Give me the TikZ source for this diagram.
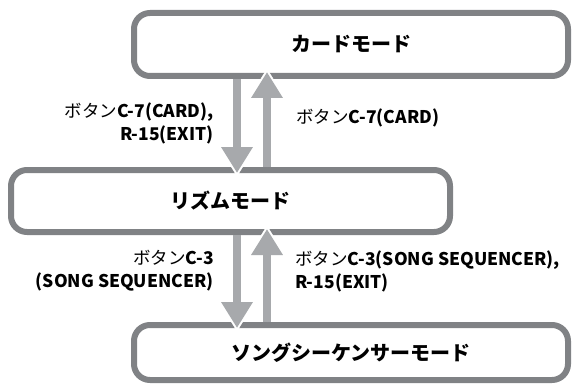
\documentclass[tikz,border=0pt]{standalone}
\usepackage{fontspec}
\setmainfont{Noto Sans CJK JP}
\usetikzlibrary{arrows.meta}
\definecolor{boxgray}{HTML}{808285}
\definecolor{arrowgray}{HTML}{A7A9AC}
\begin{document}
\begin{tikzpicture}[x=1pt, y=-1pt,
    modebox/.style={draw=boxgray, line width=6pt, rounded corners=16pt, fill=white,
        minimum width=434pt, font=\bfseries\fontsize{20}{24}\selectfont},
    flowarrow/.style={draw=arrowgray, line width=8pt, -{Triangle[width=30pt,length=26pt]}},
    halo/.style={draw=white, line width=0.5pt, shorten >=-3.5pt, -{Triangle[width=38pt,length=31pt]}},
    keylabel/.style={inner sep=0pt, font=\fontsize{17.5}{23}\selectfont}]
    \useasboundingbox (0,0) rectangle (572,385);
    \node[modebox, minimum height=63pt] (card) at (351,44.5) {カードモード};
    \node[modebox, minimum width=439pt, minimum height=62pt] (rhythm) at (230.5,201) {リズムモード};
    \node[modebox, minimum height=55pt] (song) at (351,352.5) {ソングシーケンサーモード};
    \coordinate (dn) at (237,0);
    \coordinate (up) at (267,0);
    \draw[halo] (card.south -| dn) -- ([yshift=-6pt]rhythm.north -| dn);
    \draw[flowarrow] (card.south -| dn) -- ([yshift=-6pt]rhythm.north -| dn);
    \draw[halo] (rhythm.north -| up) -- ([yshift=7pt]card.south -| up);
    \draw[flowarrow] (rhythm.north -| up) -- ([yshift=7pt]card.south -| up);
    \draw[halo] (rhythm.south -| dn) -- ([yshift=-6pt]song.north -| dn);
    \draw[flowarrow] (rhythm.south -| dn) -- ([yshift=-6pt]song.north -| dn);
    \draw[halo] (song.north -| up) -- ([yshift=6pt]rhythm.south -| up);
    \draw[flowarrow] (song.north -| up) -- ([yshift=6pt]rhythm.south -| up);
    \node[keylabel, anchor=east, align=right] (cardin) at (214,123)
        {ボタン\textbf{C-7(CARD),}\\\textbf{R-15(EXIT)}};
    \node[keylabel, anchor=west, align=left] (cardout) at (296,118)
        {ボタン\textbf{C-7(CARD)}};
    \node[keylabel, anchor=east, align=right] (songin) at (214,271)
        {ボタン\textbf{C-3}\\\textbf{(SONG SEQUENCER)}};
    \node[keylabel, anchor=west, align=left] (songout) at (295,271)
        {ボタン\textbf{C-3(SONG SEQUENCER),}\\\textbf{R-15(EXIT)}};
\end{tikzpicture}
\end{document}
